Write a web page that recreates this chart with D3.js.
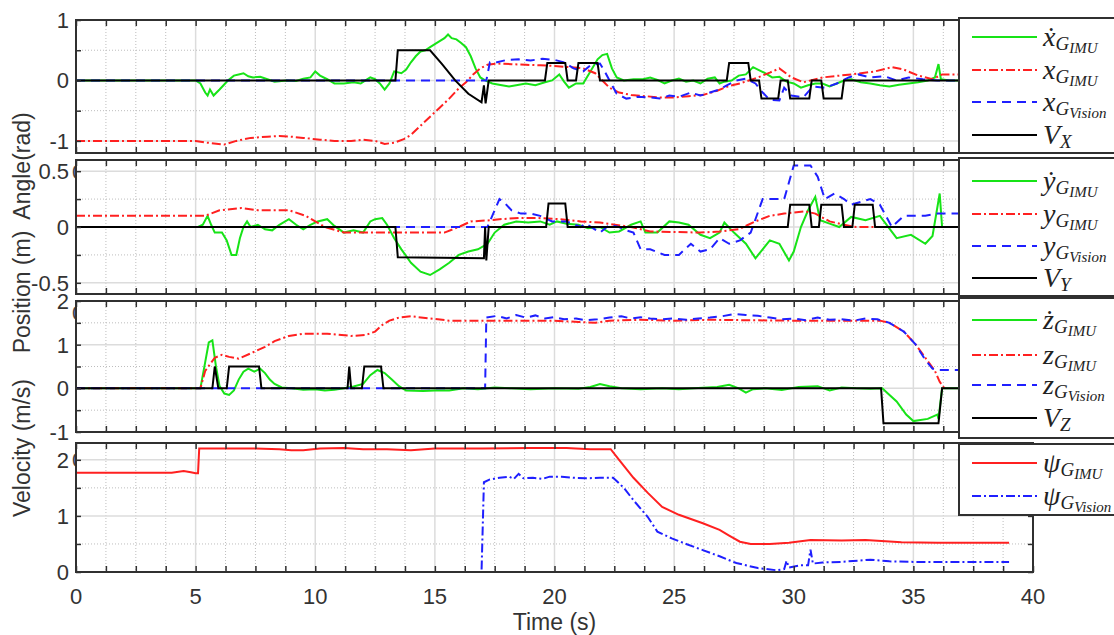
<!DOCTYPE html>
<html>
<head>
<meta charset="utf-8">
<script src="https://cdn.jsdelivr.net/npm/d3@7"></script>
<style>
  body { margin: 0; background: #fff; }
  text { font-family: "Liberation Sans", Arial, sans-serif; }
  text.math { font-family: "Liberation Serif", "DejaVu Serif", serif; font-style: italic; }
</style>
</head>
<body>
<div class="chart"></div>
<script>
// ---- data: [time (s), value] ----

// panel 1 : x
var xdImu = [[0,0],[5.0,0],[5.2,-0.05],[5.4,-0.2],[5.5,-0.25],[5.6,-0.15],[5.75,-0.25],[6.0,-0.15],[6.35,0],[6.6,0.08],[6.8,0.1],[7.0,0.12],[7.2,0.07],[7.4,0.05],[7.7,0.06],[8.0,0.02],[8.3,-0.02],[8.8,0],[9.2,-0.01],[9.5,0.03],[9.8,0.05],[10.0,0.15],[10.2,0.08],[10.5,0.02],[10.8,-0.05],[11.2,-0.05],[11.6,-0.03],[11.9,-0.05],[12.1,0],[12.3,0.05],[12.5,0.02],[12.7,-0.05],[12.9,-0.15],[13.1,-0.05],[13.3,0.15],[13.6,0.12],[13.8,0.18],[14.0,0.3],[14.2,0.4],[14.4,0.48],[14.6,0.5],[14.8,0.55],[15.0,0.6],[15.2,0.65],[15.4,0.7],[15.55,0.76],[15.7,0.7],[15.9,0.68],[16.1,0.62],[16.3,0.55],[16.5,0.4],[16.7,0.2],[16.9,0.05],[17.1,0],[17.4,-0.05],[17.8,-0.08],[18.1,-0.1],[18.4,-0.08],[18.8,-0.05],[19.2,-0.08],[19.6,-0.03],[19.9,0],[20.2,0.1],[20.4,-0.02],[20.6,-0.12],[20.9,-0.05],[21.2,-0.05],[21.5,0.15],[21.8,0.35],[22.0,0.42],[22.2,0.44],[22.4,0.2],[22.6,0.05],[22.9,0],[23.3,0.02],[23.7,0.02],[24.0,0.05],[24.3,0.01],[24.6,-0.05],[24.9,0],[25.2,0.03],[25.5,-0.02],[25.8,0],[26.1,-0.05],[26.4,0.03],[26.7,0.05],[26.9,-0.05],[27.1,-0.02],[27.4,0],[27.7,0.08],[28.0,0.1],[28.3,0.22],[28.5,0.18],[28.8,0.12],[29.1,0.05],[29.4,0.06],[29.7,-0.02],[30.0,-0.05],[30.3,-0.12],[30.6,-0.08],[30.9,-0.05],[31.2,-0.05],[31.5,-0.1],[31.8,-0.05],[32.1,0],[32.4,0.02],[32.8,-0.03],[33.2,-0.05],[33.6,-0.08],[34.0,-0.1],[34.4,-0.07],[34.8,-0.05],[35.2,-0.03],[35.6,0],[35.9,0.05],[36.05,0.27],[36.15,0.02],[36.5,0],[39,0]];
var xImu = [[0,-1.0],[5.0,-1.0],[5.5,-1.03],[6.2,-1.06],[6.7,-1.0],[7.3,-0.95],[8.0,-0.93],[8.5,-0.92],[9.0,-0.93],[9.5,-0.95],[10.2,-0.98],[10.8,-1.0],[11.5,-1.0],[12.0,-0.98],[12.5,-1.0],[12.9,-1.05],[13.3,-1.03],[13.7,-0.97],[14.0,-0.9],[14.4,-0.75],[14.8,-0.6],[15.2,-0.45],[15.6,-0.3],[16.0,-0.13],[16.3,-0.03],[16.6,0.1],[16.9,0.2],[17.2,0.26],[17.6,0.28],[18.2,0.27],[18.8,0.26],[19.4,0.25],[20.0,0.24],[20.6,0.22],[21.2,0.2],[21.7,0.12],[22.0,0.0],[22.3,-0.12],[22.7,-0.2],[23.2,-0.24],[23.8,-0.26],[24.4,-0.28],[25.0,-0.28],[25.6,-0.26],[26.2,-0.24],[26.8,-0.17],[27.3,-0.09],[27.75,-0.05],[28.5,0.05],[29.0,0.13],[29.4,0.2],[29.9,0.05],[30.4,-0.03],[31.2,0.05],[32.4,0.1],[33.4,0.15],[34.1,0.22],[34.6,0.18],[35.2,0.08],[35.8,0.02],[36.2,0.1],[39,0.1]];
var xVis = [[0,0],[17.15,0],[17.3,0.3],[17.6,0.3],[18.0,0.34],[18.5,0.35],[19.0,0.33],[19.5,0.36],[20.0,0.34],[20.4,0.3],[20.8,0.2],[21.2,0.15],[21.5,0.25],[21.9,0.28],[22.1,0.15],[22.3,0.0],[22.6,-0.22],[23.0,-0.3],[23.5,-0.27],[24.0,-0.28],[24.4,-0.3],[24.8,-0.25],[25.2,-0.27],[25.7,-0.2],[26.1,-0.25],[26.5,-0.2],[26.9,-0.15],[27.2,-0.08],[27.6,0.0],[28.0,0.03],[28.4,-0.05],[28.7,-0.2],[29.0,-0.32],[29.4,-0.33],[29.6,-0.12],[29.9,-0.25],[30.4,-0.28],[30.8,-0.1],[31.3,-0.12],[31.8,-0.05],[32.3,0.05],[32.7,0.1],[33.2,0.05],[33.8,0.07],[34.3,0.0],[34.8,0.05],[35.4,0.02],[36,0],[39,0]];
var vxCmd = [[0,0],[13.35,0],[13.45,0.5],[14.8,0.5],[15.3,0.27],[15.85,0.0],[16.4,-0.22],[16.95,-0.36],[17.05,-0.08],[17.12,-0.38],[17.25,0],[19.6,0],[19.7,0.29],[20.45,0.29],[20.55,0],[20.9,0],[21.0,0.29],[21.8,0.29],[21.9,0],[27.2,0],[27.3,0.29],[28.1,0.29],[28.2,0],[28.55,0],[28.65,-0.3],[29.35,-0.3],[29.45,0],[29.75,0],[29.85,-0.3],[30.65,-0.3],[30.75,0],[31.15,0],[31.25,-0.3],[32.0,-0.3],[32.1,0],[39,0]];

// panel 2 : y
var ydImu = [[0,0],[5.1,0],[5.3,0.02],[5.5,0.1],[5.65,0.02],[5.8,-0.05],[6.1,-0.05],[6.3,-0.12],[6.5,-0.25],[6.7,-0.25],[6.85,-0.1],[7.0,0],[7.15,0.05],[7.3,0],[7.6,0.02],[7.9,-0.02],[8.2,-0.03],[8.5,0.02],[8.9,0.07],[9.2,0.02],[9.5,-0.02],[9.8,0.02],[10.1,0.05],[10.5,0.07],[10.8,0.01],[11.2,-0.05],[11.6,-0.03],[12.0,-0.05],[12.3,0.05],[12.5,0.07],[12.8,0.08],[13.0,0.02],[13.3,-0.1],[13.6,-0.2],[14.0,-0.32],[14.4,-0.4],[14.8,-0.43],[15.2,-0.38],[15.6,-0.32],[16.0,-0.25],[16.4,-0.22],[16.8,-0.2],[17.2,-0.15],[17.5,-0.05],[17.9,0.02],[18.4,0.05],[18.9,0.04],[19.4,0.05],[19.8,0.02],[20.1,0.05],[20.5,0.03],[21.0,0.02],[21.4,-0.01],[21.9,0.0],[22.3,-0.05],[22.7,-0.04],[23.2,0.02],[23.6,0.05],[23.8,-0.05],[24.3,-0.05],[24.8,0.05],[25.2,0.04],[25.6,0.02],[26.1,-0.07],[26.5,-0.1],[26.9,-0.05],[27.1,0.04],[27.5,-0.05],[28.0,-0.15],[28.4,-0.28],[28.7,-0.2],[29.0,-0.12],[29.4,-0.15],[29.8,-0.3],[30.0,-0.22],[30.3,0.0],[30.6,0.15],[30.9,0.27],[31.1,0.06],[31.5,0.03],[31.9,0.0],[32.4,0.09],[33.0,0.06],[33.6,0.1],[34.3,-0.1],[34.9,-0.07],[35.5,-0.15],[35.8,-0.08],[36.1,0.3],[36.2,0.0],[39,0]];
var yImu = [[0,0.1],[5.4,0.1],[6.0,0.15],[6.9,0.17],[7.6,0.15],[8.9,0.15],[9.6,0.1],[10.4,0.0],[11.2,-0.05],[13.0,-0.05],[15.4,-0.05],[16.0,0.0],[16.5,0.05],[17.3,0.06],[17.7,0.07],[18.5,0.08],[19.3,0.08],[20.2,0.07],[21.1,0.05],[21.9,0.04],[23.2,0.0],[24.0,-0.04],[26.1,-0.05],[26.9,-0.04],[27.7,-0.02],[28.4,0.05],[29.0,0.1],[29.6,0.12],[30.5,0.14],[30.9,0.12],[31.5,0.05],[32.1,0.02],[32.6,0.0],[39,0]];
var yVis = [[0,0],[17.2,0],[17.5,0.15],[17.7,0.25],[17.9,0.22],[18.2,0.15],[18.6,0.12],[19.0,0.12],[19.4,0.1],[19.9,0.05],[20.5,0.05],[21.1,0.0],[21.3,0.03],[21.9,-0.05],[22.3,0.02],[22.7,0.0],[23.0,-0.03],[23.3,-0.05],[23.6,-0.2],[24.0,-0.2],[24.6,-0.25],[25.2,-0.25],[25.7,-0.15],[26.1,-0.22],[26.5,-0.2],[26.9,-0.1],[27.3,-0.15],[27.75,-0.12],[28.2,-0.05],[28.7,0.25],[29.6,0.25],[30.0,0.55],[30.7,0.55],[31.0,0.45],[31.3,0.25],[31.7,0.3],[32.1,0.25],[32.4,0.2],[33.2,0.25],[33.6,0.2],[34.1,0.0],[34.6,0.1],[35.5,0.1],[36.0,0.12],[39,0.12]];
var vyCmd = [[0,0],[13.35,0],[13.45,-0.27],[17.05,-0.28],[17.1,0],[17.15,-0.3],[17.25,0],[19.65,0],[19.75,0.21],[20.45,0.21],[20.55,0],[29.75,0],[29.85,0.2],[30.65,0.2],[30.75,0],[31.05,0],[31.15,0.2],[32.0,0.2],[32.1,0],[32.45,0],[32.55,0.2],[33.3,0.2],[33.4,0],[39,0]];

// panel 3 : z
var zdImu = [[0,0],[5.2,0],[5.4,0.6],[5.55,1.05],[5.7,1.1],[5.85,0.5],[6.0,0.05],[6.2,-0.12],[6.4,-0.15],[6.6,-0.05],[6.8,0.2],[7.0,0.38],[7.2,0.45],[7.45,0.38],[7.7,0.45],[7.9,0.35],[8.1,0.2],[8.3,0.1],[8.6,0.02],[9.0,0],[9.5,-0.03],[10.0,-0.02],[10.4,-0.05],[10.8,-0.03],[11.2,0],[11.6,0.04],[12.0,0.1],[12.3,0.3],[12.6,0.42],[12.9,0.35],[13.2,0.2],[13.5,0.05],[13.8,-0.05],[14.5,-0.06],[15.0,-0.05],[15.6,-0.05],[16.2,0.0],[16.8,-0.02],[17.5,0.02],[18.2,0.0],[19.0,-0.02],[20.0,0.0],[21.0,-0.01],[21.5,0.03],[21.9,0.1],[22.3,0.05],[22.8,0.0],[23.6,-0.02],[24.5,0.0],[25.2,-0.02],[26.0,0.01],[26.8,0.03],[27.3,0.08],[27.7,0.0],[28.0,-0.1],[28.3,-0.02],[28.8,0.0],[29.5,-0.04],[30.2,0.03],[31.0,0.05],[31.5,-0.05],[32.0,0.02],[32.6,0.0],[33.2,-0.01],[33.7,0.0],[33.9,-0.1],[34.3,-0.3],[34.7,-0.6],[35.0,-0.75],[35.6,-0.7],[36.0,-0.6],[36.05,-0.7],[36.2,0],[39,0]];
var zImu = [[0,0],[5.2,0],[5.4,0.4],[5.8,0.7],[6.1,0.77],[6.4,0.72],[6.8,0.68],[7.3,0.8],[7.9,0.95],[8.3,1.08],[8.9,1.2],[9.5,1.25],[10.5,1.25],[11.5,1.2],[12.1,1.22],[12.5,1.3],[12.8,1.45],[13.1,1.55],[13.5,1.62],[14.0,1.65],[14.8,1.6],[15.6,1.55],[17,1.55],[18.5,1.55],[20,1.55],[21.0,1.52],[21.7,1.5],[22.3,1.55],[23.6,1.57],[25,1.55],[26.5,1.57],[28,1.56],[30,1.55],[32,1.55],[33.6,1.55],[34.0,1.5],[34.6,1.3],[35.1,1.0],[35.5,0.7],[35.9,0.4],[36.1,0.15],[36.3,0.0]];
var zVis = [[0,0],[17.1,0],[17.15,1.62],[17.6,1.66],[18.0,1.6],[18.4,1.68],[18.8,1.62],[19.2,1.67],[19.6,1.6],[20.0,1.63],[20.4,1.58],[20.9,1.6],[21.3,1.56],[21.8,1.58],[22.3,1.62],[22.8,1.65],[23.2,1.6],[23.6,1.63],[24.0,1.6],[24.5,1.58],[25.0,1.6],[25.5,1.57],[26.0,1.6],[26.5,1.62],[27.0,1.65],[27.5,1.7],[28.0,1.68],[28.5,1.66],[29.0,1.62],[29.5,1.58],[30,1.6],[30.5,1.56],[31,1.62],[31.5,1.57],[32,1.58],[32.5,1.55],[33.0,1.6],[33.5,1.58],[34.0,1.5],[34.6,1.3],[35.1,1.0],[35.5,0.65],[35.8,0.45],[36,0.42],[39,0.42]];
var vzCmd = [[0,0],[5.7,0],[5.8,0.5],[5.95,0],[6.3,0],[6.4,0.5],[7.65,0.5],[7.75,0],[11.35,0],[11.42,0.5],[11.5,0],[11.95,0],[12.05,0.5],[12.75,0.5],[12.85,0],[33.65,0],[33.75,-0.8],[36.05,-0.8],[36.2,0],[39,0]];

// panel 4 : yaw
var psiImu = [[0,1.77],[4.0,1.77],[4.5,1.8],[4.8,1.78],[5.0,1.76],[5.1,1.76],[5.15,2.2],[6,2.2],[7.5,2.2],[8.5,2.19],[9.0,2.17],[9.5,2.17],[10.2,2.2],[11.2,2.21],[12.0,2.19],[13.0,2.19],[14.0,2.17],[15.0,2.2],[17.0,2.2],[19.0,2.21],[20.5,2.21],[21.5,2.19],[22.35,2.19],[22.7,2.0],[23.3,1.68],[23.9,1.41],[24.5,1.16],[25.2,1.02],[26.2,0.87],[26.9,0.75],[27.3,0.65],[27.75,0.54],[28.2,0.5],[29,0.5],[29.8,0.52],[30.7,0.57],[32,0.56],[33,0.57],[34.5,0.53],[36,0.52],[39,0.52]];
var psiVis = [[0,0],[16.95,0],[17.05,1.6],[17.3,1.65],[17.7,1.68],[18.1,1.7],[18.3,1.66],[18.5,1.75],[18.7,1.67],[19.1,1.68],[19.5,1.66],[19.8,1.7],[20.3,1.7],[20.8,1.68],[21.3,1.67],[21.9,1.68],[22.45,1.68],[22.9,1.5],[23.3,1.28],[23.9,0.98],[24.3,0.72],[24.9,0.6],[25.5,0.5],[26.2,0.39],[26.9,0.28],[27.6,0.16],[28.5,0.07],[29.3,0.03],[29.6,0.05],[29.7,0.2],[29.8,0.08],[30.3,0.12],[30.6,0.12],[30.7,0.4],[30.8,0.15],[31.2,0.17],[32,0.18],[33.2,0.22],[34,0.19],[35,0.18],[39,0.18]];

// tick values
var xTickLabels = [0, 5, 10, 15, 20, 25, 30, 35, 40];
var p1Ticks = [-1, 0, 1];
var p2Ticks = [-0.5, 0, 0.5];
var p3Ticks = [-1, 0, 1, 2];
var p4Ticks = [0, 1, 2];

// the shared y title, read bottom to top
var yTitles = ["Velocity (m/s)", "Position (m)", "Angle(rad)"];

var svgWidth = 1114;
var svgHeight = 635;

var svg = d3.select(".chart")
  .append("svg")
  .attr("width", svgWidth)
  .attr("height", svgHeight);

var xScale = d3.scaleLinear().domain([0, 40]).range([76, 1033]);
var xMinor = d3.range(0, 40.001, 1.25);

var green = "#17e317", red = "#ff2020", blue = "#1f1fff", black = "#000";
var dashDot = "9,3,2,3", dashed = "9,6";

// layout of the four stacked axes
var panels = [
  {top: 20, bottom: 153, domain: [-1.2, 1], ticks: p1Ticks, step: 0.5,
   legend: {top: 18, bottom: 153, rows: [37, 70, 102, 135]},
   series: [
     {data: xdImu, color: green, dash: null, label: ["\u1E8B", "G", "IMU"]},
     {data: xImu, color: red, dash: dashDot, label: ["x", "G", "IMU"]},
     {data: xVis, color: blue, dash: dashed, label: ["x", "G", "Vision"]},
     {data: vxCmd, color: black, dash: null, label: ["V", "X"]}
   ]},
  {top: 160, bottom: 294, domain: [-0.6, 0.6], ticks: p2Ticks, step: 0.25,
   legend: {top: 158, bottom: 296, rows: [181, 214, 246, 278]},
   series: [
     {data: ydImu, color: green, dash: null, label: ["\u1E8F", "G", "IMU"]},
     {data: yImu, color: red, dash: dashDot, label: ["y", "G", "IMU"]},
     {data: yVis, color: blue, dash: dashed, label: ["y", "G", "Vision"]},
     {data: vyCmd, color: black, dash: null, label: ["V", "Y"]}
   ]},
  {top: 301, bottom: 432, domain: [-1, 2], ticks: p3Ticks, step: 0.5,
   legend: {top: 298, bottom: 438, rows: [320, 355, 385, 418]},
   series: [
     {data: zdImu, color: green, dash: null, label: ["\u017C", "G", "IMU"]},
     {data: zImu, color: red, dash: dashDot, label: ["z", "G", "IMU"]},
     {data: zVis, color: blue, dash: dashed, label: ["z", "G", "Vision"]},
     {data: vzCmd, color: black, dash: null, label: ["V", "Z"]}
   ]},
  {top: 443, bottom: 572, domain: [0, 2.3], ticks: p4Ticks, step: 0.5,
   legend: {top: 444, bottom: 515, rows: [463, 496]},
   series: [
     {data: psiImu, color: red, dash: null, label: ["\u03C8", "G", "IMU"]},
     {data: psiVis, color: blue, dash: dashDot, label: ["\u03C8", "G", "Vision"]}
   ]}
];

// stray half-hidden glyphs left of the frames (they sit behind the axes)
[172, 313, 460].forEach(function(sy) {
  svg.append("text")
    .attr("x", 72).attr("y", sy + 7)
    .attr("font-size", 21).attr("fill", "#444")
    .text("0");
});

panels.forEach(function(p, i) {
  var yScale = d3.scaleLinear().domain(p.domain).range([p.bottom, p.top]);
  var g = svg.append("g");
  var x0 = xScale(0), x1 = xScale(40);

  g.append("rect")
    .attr("x", x0).attr("y", p.top)
    .attr("width", x1 - x0).attr("height", p.bottom - p.top)
    .attr("fill", "#fff");

  // grid
  var yMinor = d3.range(Math.ceil(p.domain[0] / p.step) * p.step, p.domain[1] + 1e-9, p.step);
  var isMajor = d => p.ticks.some(t => Math.abs(t - d) < 1e-6);
  g.selectAll(".vgrid").data(xMinor).enter().append("line")
    .attr("x1", d => xScale(d)).attr("x2", d => xScale(d))
    .attr("y1", p.top).attr("y2", p.bottom)
    .attr("stroke", d => d % 5 === 0 ? "#dcdcdc" : "#bdbdbd")
    .attr("stroke-width", d => d % 5 === 0 ? 1.5 : 1)
    .attr("stroke-dasharray", d => d % 5 === 0 ? null : "1,2");
  g.selectAll(".hgrid").data(yMinor).enter().append("line")
    .attr("x1", x0).attr("x2", x1)
    .attr("y1", d => yScale(d)).attr("y2", d => yScale(d))
    .attr("stroke", d => isMajor(d) ? "#dcdcdc" : "#bdbdbd")
    .attr("stroke-width", d => isMajor(d) ? 1.5 : 1)
    .attr("stroke-dasharray", d => isMajor(d) ? null : "1,2");

  // lines
  var clipId = "clip" + i;
  g.append("clipPath").attr("id", clipId).append("rect")
    .attr("x", x0).attr("y", p.top).attr("width", x1 - x0).attr("height", p.bottom - p.top);
  var line = d3.line().x(d => xScale(d[0])).y(d => yScale(d[1]));
  p.series.forEach(function(s) {
    g.append("path")
      .datum(s.data)
      .attr("clip-path", "url(#" + clipId + ")")
      .attr("d", line)
      .attr("fill", "none")
      .attr("stroke", s.color)
      .attr("stroke-width", 2)
      .attr("stroke-dasharray", s.dash);
  });

  // frame with inward ticks on all sides
  g.append("g").attr("transform", `translate(0,${p.bottom})`)
    .call(d3.axisTop(xScale).tickValues(xMinor).tickSize(6).tickFormat(""));
  g.append("g").attr("transform", `translate(0,${p.top})`)
    .call(d3.axisBottom(xScale).tickValues(xMinor).tickSize(6).tickFormat(""));
  g.append("g").attr("transform", `translate(${x0},0)`)
    .call(d3.axisRight(yScale).tickValues(yMinor).tickSize(5).tickFormat(""));
  g.append("g").attr("transform", `translate(${x1},0)`)
    .call(d3.axisLeft(yScale).tickValues(yMinor).tickSize(5).tickFormat(""));
  g.selectAll(".domain").remove();
  g.selectAll(".tick line").attr("stroke", "#303030").attr("stroke-width", 1.5);

  g.append("rect")
    .attr("x", x0).attr("y", p.top)
    .attr("width", x1 - x0).attr("height", p.bottom - p.top)
    .attr("fill", "none").attr("stroke", "#303030").attr("stroke-width", 2);

  // y tick labels
  g.selectAll(".ylab").data(p.ticks).enter().append("text")
    .attr("x", 69).attr("y", d => yScale(d))
    .attr("dy", "0.36em")
    .attr("text-anchor", "end")
    .attr("font-size", 22)
    .attr("fill", "#333")
    .text(d => String(d));

  // legend box
  var lg = svg.append("g");
  lg.append("rect")
    .attr("x", 959).attr("y", p.legend.top)
    .attr("width", 170).attr("height", p.legend.bottom - p.legend.top)
    .attr("fill", "#fff").attr("stroke", "#303030").attr("stroke-width", 2);
  p.series.forEach(function(s, k) {
    var ry = p.legend.rows[k];
    lg.append("line")
      .attr("x1", 972).attr("x2", 1037).attr("y1", ry).attr("y2", ry)
      .attr("stroke", s.color).attr("stroke-width", 2)
      .attr("stroke-dasharray", s.dash);
    var t = lg.append("text")
      .attr("class", "math")
      .attr("x", 1043).attr("y", ry + 9)
      .attr("fill", "#222");
    t.append("tspan").attr("font-size", 28).text(s.label[0]);
    t.append("tspan").attr("font-size", 19).attr("dy", 4).text(s.label[1]);
    if (s.label[2]) {
      t.append("tspan").attr("font-size", 15).attr("dy", 3).text(s.label[2]);
    }
  });
});

// x tick labels on the bottom axes
svg.selectAll(".xlab").data(xTickLabels).enter().append("text")
  .attr("x", d => xScale(d)).attr("y", 604)
  .attr("text-anchor", "middle")
  .attr("font-size", 22)
  .attr("fill", "#333")
  .text(d => d);

svg.append("text")
  .attr("x", xScale(20)).attr("y", 630)
  .attr("text-anchor", "middle")
  .attr("font-size", 23)
  .attr("fill", "#333")
  .text("Time (s)");

// y title pieces, one per block of panels
var titleCenters = [448, 292, 166];
yTitles.forEach(function(t, k) {
  svg.append("text")
    .attr("transform", `translate(30,${titleCenters[k]}) rotate(-90)`)
    .attr("text-anchor", "middle")
    .attr("font-size", 23)
    .attr("fill", "#333")
    .text(t);
});
</script>
</body>
</html>
